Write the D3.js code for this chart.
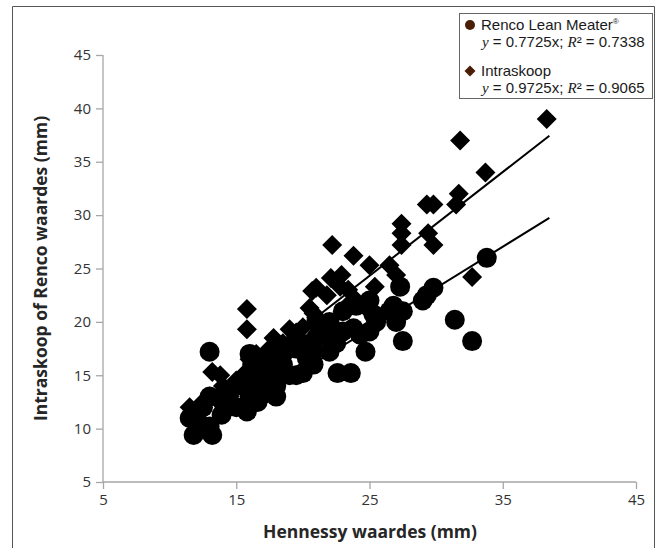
<!DOCTYPE html>
<html>
<head>
<meta charset="utf-8">
<script src="https://cdn.jsdelivr.net/npm/d3@7"></script>
<style>
  html, body { margin: 0; padding: 0; background: #fff; }
  svg { display: block; }
</style>
</head>
<body>
<svg id="chart" width="660" height="548"></svg>
<script>
// ---- Data ----
const xTicks = [5, 15, 25, 35, 45];
const yTicks = [5, 10, 15, 20, 25, 30, 35, 40, 45];

// Renco Lean Meater (circles): [Hennessy, Renco]
const rencoPoints = [
  [11.5,11],[11.8,9.4],[13.2,9.4],[12.2,10.5],[13,10.2],[12.5,12],[13,13],[13.9,11.3],
  [14,12.5],[14.5,13.5],[15,12],[15,14],[15.8,11.6],[16,13],[16,14],[16,15],[16.2,16],
  [16,17],[13,17.2],[16.6,12.5],[17,13.2],[17,14.5],[17.2,15.5],[17.5,16.5],[18,13],
  [18,14],[18.2,15],[18.5,16],[19,15],[19.5,15],[20,15.2],[20.3,16.6],[20.8,16],
  [20.8,17.2],[20.3,17.9],[21,18.5],[21.8,18.8],[22,17.2],[22.5,18],[23,19.1],[23.8,19.4],
  [24.3,18.8],[22.6,15.2],[23.6,15.2],[24.7,17.2],[25,19.1],[25.5,20],[25.3,20.7],
  [26.5,21],[27.5,21],[27,20],[26.8,21.5],[27.3,23.3],[27.5,18.2],[29,22],[29.3,22.5],
  [29.8,23.2],[31.4,20.2],[32.7,18.2],[33.8,26],[22,20],[23,21],[24,21.5],[21,20],
  [25,22],[18.5,17],[19.5,17.5]
];

// Intraskoop (diamonds): [Hennessy, Intraskoop]
const intraPoints = [
  [11.5,12],[12,11],[12.5,12.5],[13.2,15.3],[13.8,15],[13,13],[14,14],[14.5,13],[15,14.5],
  [15.8,21.2],[15.8,19.3],[16,16.5],[16.5,17],[17,16],[17.5,17.5],[17.8,18.5],[18.5,18],
  [19,19.3],[19.5,19],[20,19.5],[20.5,21.3],[20.8,20.8],[21,20.4],[20.7,22.9],[21,23.2],
  [21.8,22.5],[22.1,24.1],[22.9,24.4],[22.8,23.3],[23.4,23],[23.4,21.6],[22.2,27.2],
  [23.8,26.2],[25,25.3],[25.4,23.3],[26.5,25.3],[27,24.4],[27.4,29.2],[27.4,28.3],
  [27.4,27.2],[29.4,28.3],[29.8,27.2],[29.3,31],[29.8,31],[31.5,31],[31.7,32],[31.8,37],
  [33.7,34],[32.7,24.2],[38.3,39],[24,22],[25,21],[17,15],[18,17],[19,18],[14,13.5],[15.5,15]
];

const rencoSlope = 0.7725;
const intraSlope = 0.9725;
const fitRange = [11.5, 38.5];

// ---- Layout ----
const svg = d3.select("#chart");
const x = d3.scaleLinear().domain([5, 45]).range([103, 636]);
const y = d3.scaleLinear().domain([5, 45]).range([482, 55]);
const axisColor = "#a6a6a6";
const textColor = "#333333";
const font = "'Open Sans', 'Noto Sans', sans-serif";
const legendFont = "'Liberation Sans', Arial, sans-serif";
const serif = "'Liberation Serif', 'DejaVu Serif', serif";

// outer frame (open at the bottom)
svg.append("path")
  .attr("d", "M12.5,548 L12.5,6.5 L654.5,6.5 L654.5,548")
  .attr("fill", "none").attr("stroke", "#555").attr("stroke-width", 1);

// axes
const xAxis = d3.axisBottom(x).tickValues(xTicks).tickSize(7).tickPadding(5);
const yAxis = d3.axisLeft(y).tickValues(yTicks).tickSize(7).tickPadding(5);

const gx = svg.append("g").attr("transform", `translate(0,${y(5)})`).call(xAxis);
const gy = svg.append("g").attr("transform", `translate(${x(5)},0)`).call(yAxis);
[gx, gy].forEach(g => {
  g.select(".domain").attr("stroke", axisColor).attr("stroke-width", 1.3);
  g.selectAll(".tick line").attr("stroke", axisColor).attr("stroke-width", 1.3);
  g.selectAll(".tick text").attr("fill", textColor)
    .style("font-family", font).style("font-size", "15px");
});
gx.select(".domain").attr("d", `M${x(5)},0H${x(45)}`);
gy.select(".domain").attr("d", `M0,${y(45)}V${y(5)}`);

// axis titles
svg.append("text")
  .attr("x", 370).attr("y", 538)
  .attr("text-anchor", "middle")
  .attr("fill", "#262626")
  .style("font-family", font).style("font-size", "17.5px").style("font-weight", "bold")
  .text("Hennessy waardes (mm)");

svg.append("text")
  .attr("transform", `translate(47,${(y(5) + y(45)) / 2}) rotate(-90)`)
  .attr("text-anchor", "middle")
  .attr("fill", "#262626")
  .style("font-family", font).style("font-size", "17.5px").style("font-weight", "bold")
  .text("Intraskoop of Renco waardes (mm)");

// markers
const plot = svg.append("g");
plot.selectAll("circle.renco").data(rencoPoints).enter().append("circle")
  .attr("class", "renco")
  .attr("cx", d => x(d[0])).attr("cy", d => y(d[1]))
  .attr("r", 10).attr("fill", "#000");

const diamond = d3.symbol().type(d3.symbolSquare).size(200);
plot.selectAll("path.intra").data(intraPoints).enter().append("path")
  .attr("class", "intra")
  .attr("d", diamond)
  .attr("transform", d => `translate(${x(d[0])},${y(d[1])}) rotate(45)`)
  .attr("fill", "#000");

// trend lines
const line = d3.line().x(d => x(d[0])).y(d => y(d[1]));
[rencoSlope, intraSlope].forEach(s => {
  svg.append("path")
    .attr("d", line(fitRange.map(v => [v, v * s])))
    .attr("fill", "none").attr("stroke", "#000").attr("stroke-width", 2);
});

// legend
const lg = svg.append("g");
lg.append("rect").attr("x", 459.5).attr("y", 13.5).attr("width", 193).attr("height", 85)
  .attr("fill", "#fff").attr("stroke", "#666").attr("stroke-width", 1);
const brown = "#4a1d05";
lg.append("circle").attr("cx", 470).attr("cy", 25).attr("r", 5).attr("fill", brown);
lg.append("path").attr("d", d3.symbol().type(d3.symbolSquare).size(60))
  .attr("transform", "translate(470,71) rotate(45)").attr("fill", brown);

const legFont = "15px";
const t1 = lg.append("text").attr("x", 481).attr("y", 30)
  .attr("fill", "#1a1a1a").style("font-family", legendFont).style("font-size", legFont);
t1.append("tspan").text("Renco Lean Meater");
t1.append("tspan").attr("dy", -6).style("font-size", "8px").text("®");

function eqLine(yPos, slope, r2) {
  const t = lg.append("text").attr("x", 482).attr("y", yPos)
    .attr("fill", "#1a1a1a").style("font-family", legendFont).style("font-size", legFont);
  t.append("tspan").style("font-family", serif)
    .style("font-style", "italic").text("y");
  t.append("tspan").text(` = ${slope}x; `);
  t.append("tspan").style("font-family", serif)
    .style("font-style", "italic").text("R");
  t.append("tspan").text(`² = ${r2}`);
}
eqLine(47, "0.7725", "0.7338");

lg.append("text").attr("x", 481).attr("y", 76)
  .attr("fill", "#1a1a1a").style("font-family", legendFont).style("font-size", legFont)
  .text("Intraskoop");
eqLine(93, "0.9725", "0.9065");
</script>
</body>
</html>
